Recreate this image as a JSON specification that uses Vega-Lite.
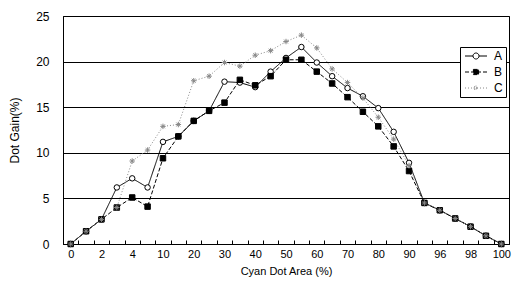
{
 "$schema": "https://vega.github.io/schema/vega-lite/v6.json",
 "width": 446, "height": 228,
 "autosize": {"type": "none"},
 "padding": {"left": 63, "top": 16, "right": 6, "bottom": 55},
 "background": "white",
 "config": {"font": "Liberation Sans", "view": {"stroke": "black", "strokeWidth": 1}},
 "data": {"values": [
  {"x":"0","s":"A","y":0},{"x":"1","s":"A","y":1.4},{"x":"2","s":"A","y":2.7},{"x":"3","s":"A","y":6.2},{"x":"4","s":"A","y":7.2},{"x":"5","s":"A","y":6.2},{"x":"10","s":"A","y":11.2},{"x":"15","s":"A","y":11.8},{"x":"20","s":"A","y":13.5},{"x":"25","s":"A","y":14.6},{"x":"30","s":"A","y":17.8},{"x":"35","s":"A","y":17.7},{"x":"40","s":"A","y":17.2},{"x":"45","s":"A","y":18.9},{"x":"50","s":"A","y":20.4},{"x":"55","s":"A","y":21.6},{"x":"60","s":"A","y":19.9},{"x":"65","s":"A","y":18.4},{"x":"70","s":"A","y":17.1},{"x":"75","s":"A","y":16.2},{"x":"80","s":"A","y":14.9},{"x":"85","s":"A","y":12.3},{"x":"90","s":"A","y":8.9},{"x":"95","s":"A","y":4.5},{"x":"96","s":"A","y":3.7},{"x":"97","s":"A","y":2.8},{"x":"98","s":"A","y":1.9},{"x":"99","s":"A","y":0.9},{"x":"100","s":"A","y":0},
  {"x":"0","s":"B","y":0},{"x":"1","s":"B","y":1.4},{"x":"2","s":"B","y":2.7},{"x":"3","s":"B","y":4.0},{"x":"4","s":"B","y":5.1},{"x":"5","s":"B","y":4.1},{"x":"10","s":"B","y":9.4},{"x":"15","s":"B","y":11.8},{"x":"20","s":"B","y":13.5},{"x":"25","s":"B","y":14.6},{"x":"30","s":"B","y":15.5},{"x":"35","s":"B","y":18.0},{"x":"40","s":"B","y":17.4},{"x":"45","s":"B","y":18.4},{"x":"50","s":"B","y":20.2},{"x":"55","s":"B","y":20.2},{"x":"60","s":"B","y":18.9},{"x":"65","s":"B","y":17.6},{"x":"70","s":"B","y":16.1},{"x":"75","s":"B","y":14.5},{"x":"80","s":"B","y":12.9},{"x":"85","s":"B","y":10.7},{"x":"90","s":"B","y":8.0},{"x":"95","s":"B","y":4.5},{"x":"96","s":"B","y":3.7},{"x":"97","s":"B","y":2.8},{"x":"98","s":"B","y":1.9},{"x":"99","s":"B","y":0.9},{"x":"100","s":"B","y":0},
  {"x":"0","s":"C","y":0},{"x":"1","s":"C","y":1.4},{"x":"2","s":"C","y":2.7},{"x":"3","s":"C","y":4.0},{"x":"4","s":"C","y":9.1},{"x":"5","s":"C","y":10.3},{"x":"10","s":"C","y":12.9},{"x":"15","s":"C","y":13.1},{"x":"20","s":"C","y":17.9},{"x":"25","s":"C","y":18.4},{"x":"30","s":"C","y":19.9},{"x":"35","s":"C","y":19.5},{"x":"40","s":"C","y":20.7},{"x":"45","s":"C","y":21.2},{"x":"50","s":"C","y":22.2},{"x":"55","s":"C","y":22.9},{"x":"60","s":"C","y":21.5},{"x":"65","s":"C","y":19.2},{"x":"70","s":"C","y":17.7},{"x":"75","s":"C","y":16.0},{"x":"80","s":"C","y":13.9},{"x":"85","s":"C","y":11.5},{"x":"90","s":"C","y":8.6},{"x":"95","s":"C","y":4.5},{"x":"96","s":"C","y":3.7},{"x":"97","s":"C","y":2.8},{"x":"98","s":"C","y":1.9},{"x":"99","s":"C","y":0.9},{"x":"100","s":"C","y":0}
 ]},
 "encoding": {
  "x": {"field": "x", "type": "ordinal", "sort": null, "bandPosition": 0.5,
        "scale": {"type": "band", "paddingInner": 0, "paddingOuter": 0},
        "axis": {"title": "Cyan Dot Area (%)", "titleFontSize": 11, "titleFontWeight": "normal", "titleColor": "black", "titlePadding": 6,
                 "labelAngle": 0, "labelFontSize": 11, "labelColor": "black", "labelPadding": 8, "labelOverlap": false,
                 "labelExpr": "indexof(['1','3','5','15','25','35','45','55','65','75','85','95','97','99'], datum.label) >= 0 ? '' : datum.label",
                 "tickBand": "extent", "tickSize": -4, "tickColor": "black", "domainColor": "black", "grid": false}},
  "y": {"field": "y", "type": "quantitative", "scale": {"domain": [0, 25]},
        "axis": {"title": "Dot Gain(%)", "values": [0, 5, 10, 15, 20, 25], "grid": true, "gridColor": "black", "gridOpacity": 1,
                 "ticks": false, "domainColor": "black", "labelFontSize": 12, "labelColor": "black", "labelPadding": 14,
                 "titlePadding": 14, "titleFontSize": 12, "titleFontWeight": "normal", "titleColor": "black"}}
 },
 "resolve": {"scale": {"stroke": "independent", "fill": "independent", "shape": "independent", "strokeDash": "independent"}},
 "layer": [
  {"mark": {"type": "line", "strokeWidth": 1},
   "encoding": {
    "stroke": {"field": "s", "type": "nominal", "scale": {"domain": ["A", "B", "C"], "range": ["black", "black", "#888888"]},
       "legend": {"title": null, "orient": "none", "legendX": 397, "legendY": 31, "strokeColor": "black", "fillColor": "white",
                  "padding": 3, "labelFontSize": 12, "labelColor": "black", "symbolSize": 64, "symbolOffset": 7, "labelOffset": 12, "rowPadding": 4, "symbolStrokeWidth": 1,
                  "encode": {"symbols": {"update": {
                     "shape": {"signal": "datum.value === 'A' ? 'M-2.75,0L-0.75,0M0.75,0L2.75,0M-0.75,0A0.75,0.75 0 1,0 0.75,0A0.75,0.75 0 1,0 -0.75,0' : datum.value === 'B' ? 'M-2.75,0L2.75,0M-0.65,-0.65L0.65,-0.65L0.65,0.65L-0.65,0.65Z' : 'M-2.75,0L2.75,0M-0.6,0L0.6,0M0,-0.6L0,0.6M-0.45,-0.45L0.45,0.45M-0.45,0.45L0.45,-0.45'"},
                     "fill": {"signal": "datum.value === 'A' ? 'white' : datum.value === 'B' ? 'black' : 'transparent'"}}}}}},
    "strokeDash": {"field": "s", "type": "nominal", "scale": {"domain": ["A", "B", "C"], "range": [[1, 0], [4, 2], [1, 2]]}},
    "order": {"value": null}
   }},
  {"mark": {"type": "point", "filled": true, "size": 30, "strokeWidth": 1, "opacity": 1},
   "encoding": {
    "stroke": {"field": "s", "type": "nominal", "scale": {"domain": ["A", "B", "C"], "range": ["black", "black", "#888888"]}, "legend": null},
    "fill": {"field": "s", "type": "nominal", "scale": {"domain": ["A", "B", "C"], "range": ["white", "black", "transparent"]}, "legend": null},
    "shape": {"field": "s", "type": "nominal", "scale": {"domain": ["A", "B", "C"], "range": ["circle", "square", "M-1,0L1,0M0,-1L0,1M-0.7,-0.7L0.7,0.7M-0.7,0.7L0.7,-0.7"]}, "legend": null}
   }}
 ]
}
